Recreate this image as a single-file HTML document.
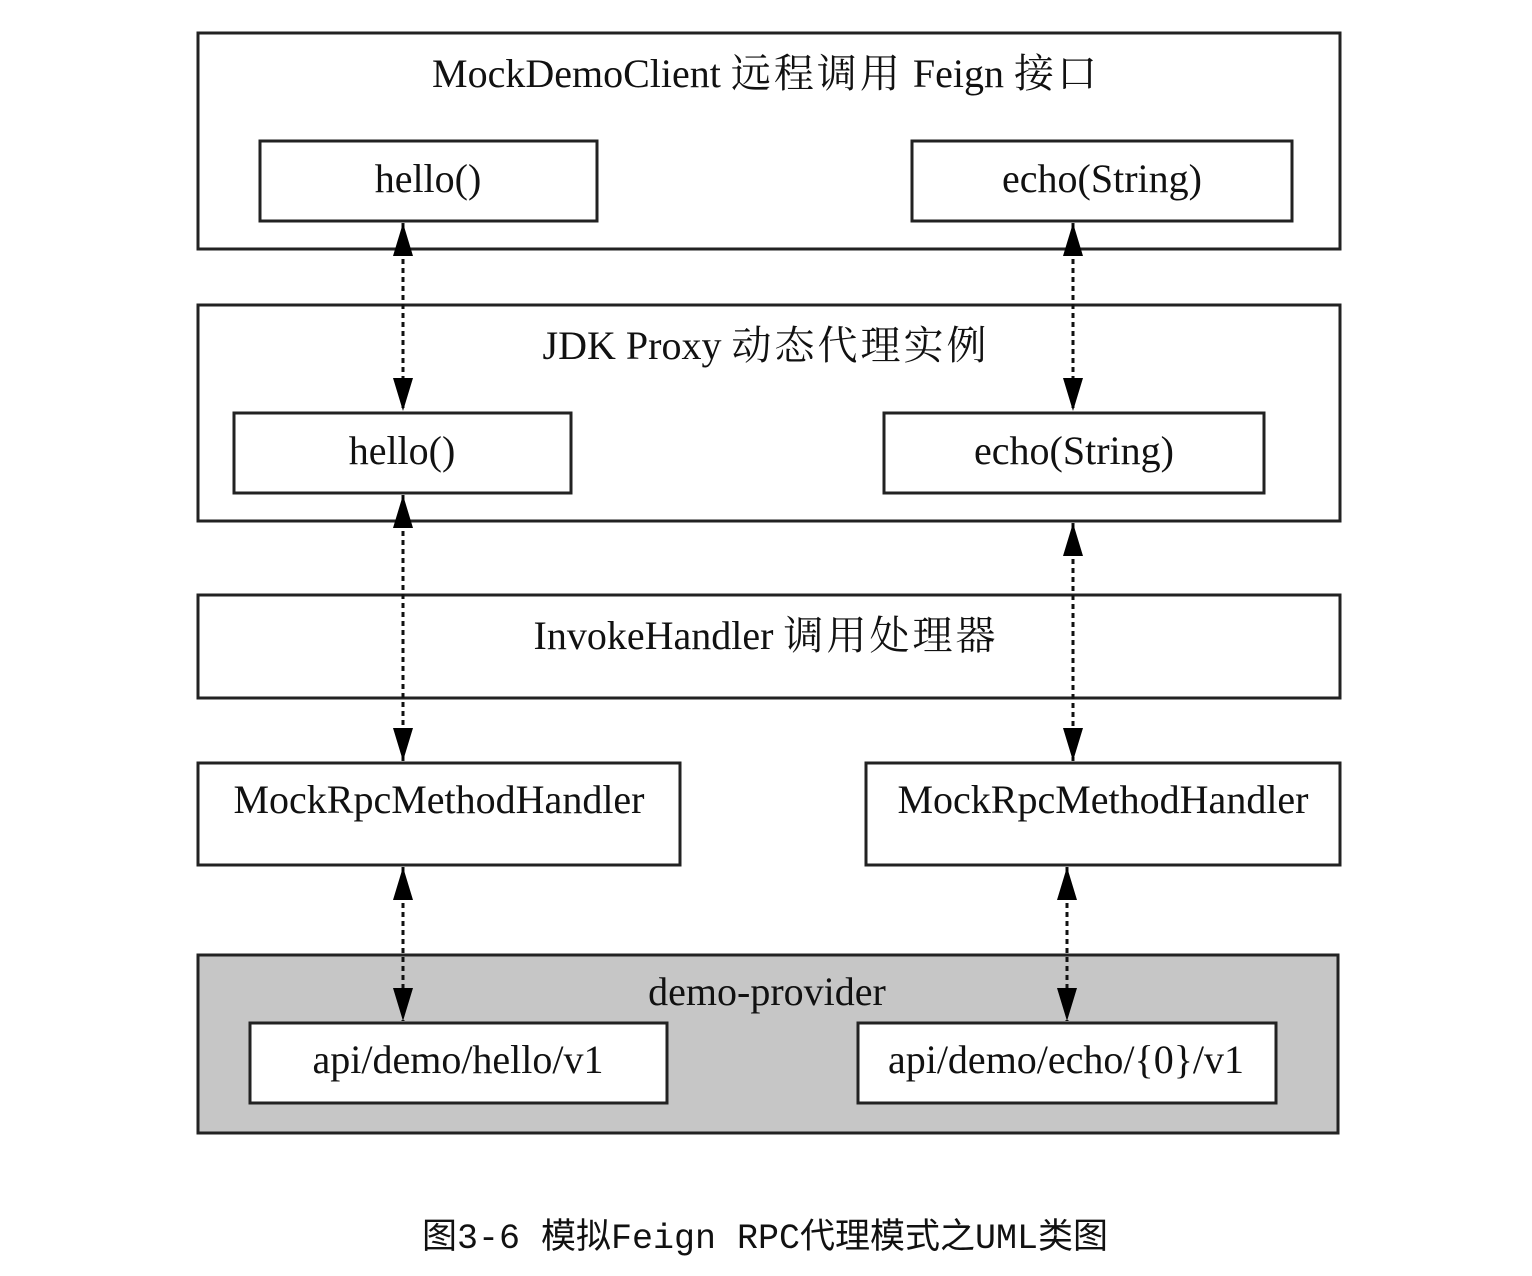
<!DOCTYPE html>
<html><head><meta charset="utf-8"><style>
html,body{margin:0;padding:0;background:#fff;}
svg{display:block}
.t{font-family:"Liberation Serif","Noto Serif CJK SC",serif;font-size:40px;fill:#111;text-anchor:middle}
.k{letter-spacing:3px}
.c{font-family:"Liberation Mono","Noto Sans CJK SC",monospace;font-size:35px;fill:#111;text-anchor:middle}
rect{fill:#fff;stroke:#222;stroke-width:3}
line{stroke:#111;stroke-width:3;stroke-dasharray:5 4}
</style></head><body>
<svg width="1532" height="1276" viewBox="0 0 1532 1276" xmlns="http://www.w3.org/2000/svg">
<rect x="198" y="33" width="1142" height="216"/>
<text class="t" x="766" y="87">MockDemoClient <tspan class="k">远程调用</tspan> Feign <tspan class="k">接口</tspan></text>
<rect x="260" y="141" width="337" height="80"/>
<text class="t" x="428" y="192">hello()</text>
<rect x="912" y="141" width="380" height="80"/>
<text class="t" x="1102" y="192">echo(String)</text>

<rect x="198" y="305" width="1142" height="216"/>
<text class="t" x="766" y="359">JDK Proxy <tspan class="k">动态代理实例</tspan></text>
<rect x="234" y="413" width="337" height="80"/>
<text class="t" x="402" y="464">hello()</text>
<rect x="884" y="413" width="380" height="80"/>
<text class="t" x="1074" y="464">echo(String)</text>

<rect x="198" y="595" width="1142" height="103"/>
<text class="t" x="766" y="649">InvokeHandler <tspan class="k">调用处理器</tspan></text>

<rect x="198" y="763" width="482" height="102"/>
<text class="t" x="439" y="813">MockRpcMethodHandler</text>
<rect x="866" y="763" width="474" height="102"/>
<text class="t" x="1103" y="813">MockRpcMethodHandler</text>

<rect x="198" y="955" width="1140" height="178" style="fill:#c6c6c6"/>
<text class="t" x="767" y="1005">demo-provider</text>
<rect x="250" y="1023" width="417" height="80"/>
<text class="t" x="458" y="1073">api/demo/hello/v1</text>
<rect x="858" y="1023" width="418" height="80"/>
<text class="t" x="1066" y="1073">api/demo/echo/{0}/v1</text>

<g>
<line x1="403" y1="223" x2="403" y2="411"/>
<path d="M393,256 L403,223 L413,256z M393,378 L403,411 L413,378z"/>
<line x1="1073" y1="223" x2="1073" y2="411"/>
<path d="M1063,256 L1073,223 L1083,256z M1063,378 L1073,411 L1083,378z"/>
<line x1="403" y1="495" x2="403" y2="761"/>
<path d="M393,528 L403,495 L413,528z M393,728 L403,761 L413,728z"/>
<line x1="1073" y1="523" x2="1073" y2="761"/>
<path d="M1063,556 L1073,523 L1083,556z M1063,728 L1073,761 L1083,728z"/>
<line x1="403" y1="867" x2="403" y2="1021"/>
<path d="M393,900 L403,867 L413,900z M393,988 L403,1021 L413,988z"/>
<line x1="1067" y1="867" x2="1067" y2="1021"/>
<path d="M1057,900 L1067,867 L1077,900z M1057,988 L1067,1021 L1077,988z"/>
</g>

<text class="c" x="765" y="1248">图3-6   模拟Feign RPC代理模式之UML类图</text>
</svg>
</body></html>
